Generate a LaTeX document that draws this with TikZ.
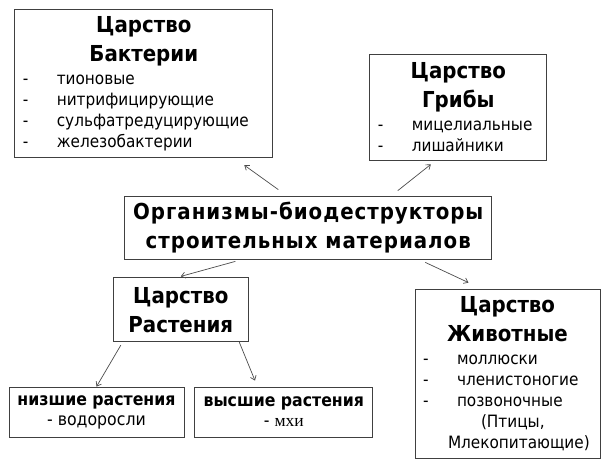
\documentclass[tikz,border=0pt]{standalone}
\usepackage{fontspec}
\setmainfont{DejaVu Sans Condensed}
\newfontfamily\serfont{Liberation Serif}
\usetikzlibrary{arrows.meta}

\definecolor{boxgray}{gray}{0.25}
\definecolor{arrowgray}{gray}{0.3}

\newcommand\ttlfont{\fontsize{22}{29}\selectfont\bfseries}
\newcommand\itmfont{\fontsize{17}{21}\selectfont}
\newcommand\kingdom[1]{{\centering\ttlfont #1\par}\vspace{2.5pt}}
\newcommand\itm[1]{{\itmfont\makebox[34pt][l]{-}#1\par}}

\tikzset{
  kbox/.style={draw=boxgray, line width=0.8pt, fill=white, inner sep=0pt, inner xsep=8pt},
  arr/.style={draw=arrowgray, line width=0.7pt, -{Straight Barb[length=4pt,width=6pt]}}
}

\begin{document}
\begin{tikzpicture}[x=1pt,y=-1pt]
            \fill[white] (0,0) rectangle (614,474);%
            \useasboundingbox (0,0) rectangle (614,474);%

            % Drawing central box
            \node [kbox, minimum width=367pt, minimum height=63pt, align=center, font=\ttlfont\addfontfeature{LetterSpace=4.5}] (root) at (308.3,227.5) {Организмы-биодеструкторы\\строительных материалов};%

            % Drawing kingdom Bacteria
            \node [kbox, minimum width=258pt, minimum height=148pt, text width=242pt] (bact) at (143.8,83.8) {\kingdom{Царство\\Бактерии}\itm{тионовые}\itm{нитрифицирующие}\itm{сульфатредуцирующие}\itm{железобактерии}};%

            % Drawing kingdom Fungi
            \node [kbox, minimum width=177pt, minimum height=106pt, text width=161pt] (fungi) at (458.3,107) {\kingdom{Царство\\Грибы}\itm{мицелиальные}\itm{лишайники}};%

            % Drawing kingdom Plants
            \node [kbox, minimum width=135pt, minimum height=64pt, align=center, font=\ttlfont] (plants) at (180.8,309.8) {Царство\\Растения};%

            % Drawing lower and higher plants
            \node [kbox, minimum width=175pt, minimum height=50pt, align=center, font=\fontsize{17.5}{20}\selectfont] (lower) at (96.5,412) {{\bfseries низшие растения}\\- водоросли};%
            \node [kbox, minimum width=178pt, minimum height=50pt, align=center, font=\fontsize{17.5}{20}\selectfont] (higher) at (283.8,412) {{\bfseries высшие растения}\\- {\serfont мхи}};%

            % Drawing kingdom Animals
            \node [kbox, minimum width=185pt, minimum height=169pt, text width=169pt] (animals) at (507.5,373.5) {\kingdom{Царство\\Животные}\itm{моллюски}\itm{членистоногие}\itm{позвоночные}{\itmfont\hspace*{58pt}(Птицы,\par\hspace*{25pt}Млекопитающие)\par}};%

            % Drawing arrows
            \draw [arr] ([xshift=-30pt,yshift=6pt]root.north) -- ([xshift=100.5pt,yshift=-7pt]bact.south);%
            \draw [arr] ([xshift=89.5pt,yshift=5pt]root.north) -- ([xshift=-27.5pt,yshift=-4pt]fungi.south);%
            \draw [arr] ([xshift=-73pt,yshift=-2pt]root.south) -- ([xshift=0pt,yshift=1pt]plants.north);%
            \draw [arr] ([xshift=117pt,yshift=-3pt]root.south) -- ([xshift=-39pt,yshift=6pt]animals.north);%
            \draw [arr] ([xshift=-60pt,yshift=-3pt]plants.south) -- ([xshift=0pt,yshift=0pt]lower.north);%
            \draw [arr] ([xshift=58.5pt,yshift=0pt]plants.south) -- ([xshift=-28.8pt,yshift=6pt]higher.north);%
\end{tikzpicture}
\end{document}
